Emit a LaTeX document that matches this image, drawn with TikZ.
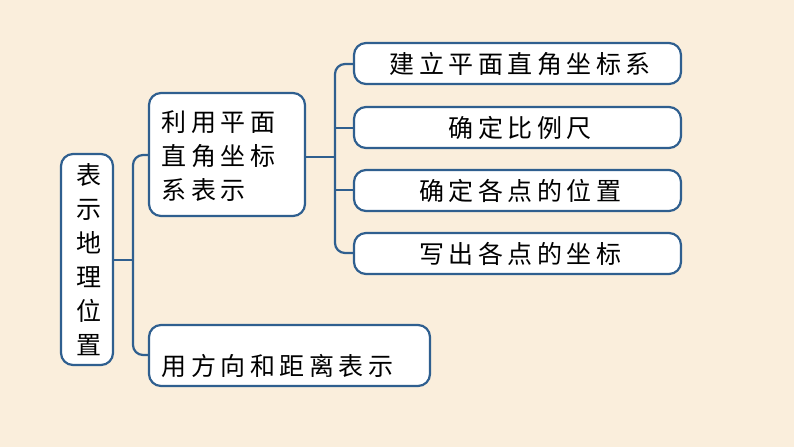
\documentclass[tikz,border=0pt]{standalone}
\usepackage{fontspec}
\setmainfont{Noto Sans CJK SC}[LetterSpace=18]
\definecolor{bg}{HTML}{FAEEDC}
\definecolor{bd}{HTML}{2F5F8F}
\begin{document}
\begin{tikzpicture}[x=1pt,y=-1pt,
 bx/.style={draw=bd,line width=2.2pt,fill=white,rounded corners=12pt,inner sep=0pt},
 br/.style={draw=bd,line width=2.2pt,rounded corners=10pt},
 tx/.style={font=\fontsize{25}{34}\selectfont,text=black}]
\fill[bg] (0,0) rectangle (794,447);
\useasboundingbox (0,0) rectangle (794,447);
\draw[bx] (61,154) rectangle (113,365);
\node[tx,align=center,text width=30pt] (tA) at (89,259.5) {表\\示\\地\\理\\位\\置};
\draw[bx] (149,93) rectangle (305,216);
\node[tx,align=left,anchor=west] (tB) at (158,156) {利用平面\\直角坐标\\系表示};
\draw[bx] (149,325) rectangle (430,386);
\node[tx,anchor=west] (tC) at (158,366) {用方向和距离表示};
\foreach \y/\t in {43/建立平面直角坐标系,107/确定比例尺,170/确定各点的位置,233/写出各点的坐标}{
 \draw[bx] (354,\y) rectangle (681,\y+41);
 \node[tx] at (520,\y+21) {\t};
}
\coordinate (a) at (113,260); \coordinate (b1) at (149,155); \coordinate (b2) at (149,355);
\draw[br] (b1) -| (133,260) |- (b2);
\draw[bd,line width=2.2pt] (a) -- (133,260);
\coordinate (c) at (305,157);
\draw[br] (354,64) -| (335,157) |- (354,253);
\draw[bd,line width=2.2pt] (c) -- (335,157);
\draw[bd,line width=2.2pt] (335,128) -- (354,128);
\draw[bd,line width=2.2pt] (335,190) -- (354,190);
\end{tikzpicture}
\end{document}
